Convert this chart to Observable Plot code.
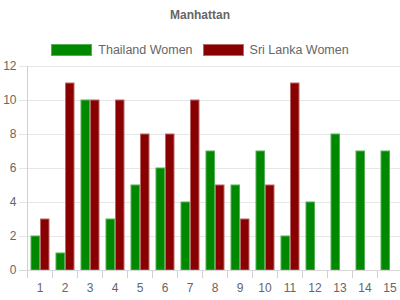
<!DOCTYPE html>
<html><head><meta charset="utf-8">
<script src="https://cdn.jsdelivr.net/npm/d3@7"></script>
<script src="https://cdn.jsdelivr.net/npm/@observablehq/plot@0.6"></script>
<style>
body{margin:0;background:#fff;font-family:"Liberation Sans",Arial,sans-serif;}
#wrap{position:relative;width:400px;height:300px;overflow:hidden;}
#title{position:absolute;top:8px;left:0;width:400px;text-align:center;font-weight:bold;font-size:12px;color:#666;}
#legend{position:absolute;top:43px;left:0;width:400px;display:flex;justify-content:center;align-items:center;font-size:12.5px;color:#666;}
.sw{display:inline-block;width:39px;height:10px;margin-right:6px;border:1px solid;}
.item{display:flex;align-items:center;margin:0 5px;}
#chart{position:absolute;top:56px;left:0;}
</style></head>
<body><div id="wrap"><div id="title">Manhattan</div><div id="legend"></div><div id="chart"></div></div>
<script>
const overs = [1,2,3,4,5,6,7,8,9,10,11,12,13,14,15];
const thailand = [2,1,10,3,5,6,4,7,5,7,2,4,8,7,7];
const sriLanka = [3,11,10,10,8,8,10,5,3,5,11,null,null,null,null];
const seriesNames = ["Thailand Women","Sri Lanka Women"];
const fills = ["#008800","#880000"];
const strokes = ["#55b055","#b86868"];
const yTicks = [0,2,4,6,8,10,12];

const legend = document.getElementById("legend");
seriesNames.forEach((n,i)=>{
  const it=document.createElement("span");it.className="item";
  const sw=document.createElement("span");sw.className="sw";sw.style.background=fills[i];sw.style.borderColor=strokes[i];
  it.appendChild(sw);it.appendChild(document.createTextNode(n));legend.appendChild(it);
});

const W=400,H=244,ML=27,MT=10,MB=30;
const bounds=overs.map(o=>o-0.5);
const xMin=bounds[0], xMax=overs[overs.length-1]+0.5, yMax=yTicks[yTicks.length-1];
const tData=overs.map((o,i)=>({over:o,v:thailand[i]}));
const sData=overs.map((o,i)=>({over:o,v:sriLanka[i]})).filter(d=>d.v!=null);

const plot=Plot.plot({
  width:W,height:H,marginLeft:ML,marginRight:0,marginTop:MT,marginBottom:MB,
  style:{fontFamily:"Liberation Sans, Arial, sans-serif",fontSize:"12px",color:"#666",background:"#fff"},
  x:{type:"linear",domain:[xMin,xMax],range:[ML,ML+25*overs.length],axis:null},
  y:{domain:[0,yMax],axis:null},
  marks:[
    Plot.ruleY(yTicks,{y:d=>d,x1:xMin,x2:xMax,insetLeft:-8,stroke:"#e6e6e6"}),
    Plot.textY(yTicks,{y:d=>d,x:xMin,dx:-11,textAnchor:"end",fill:"#666",fontSize:12}),
    Plot.ruleX(bounds,{x:d=>d,y1:0,y2:0,insetBottom:-8,stroke:"#d0d0d0"}),
    Plot.ruleX([xMin],{x:d=>d,y1:0,y2:yMax,stroke:"#d0d0d0"}),
    Plot.textX(overs,{x:d=>d,y:0,dy:18,fill:"#666",fontSize:12}),
    Plot.rectY(tData,{x1:d=>d.over-0.5,x2:d=>d.over,y:"v",fill:fills[0],stroke:strokes[0],strokeWidth:1,insetLeft:4,insetRight:0}),
    Plot.rectY(sData,{x1:d=>d.over,x2:d=>d.over+0.5,y:"v",fill:fills[1],stroke:strokes[1],strokeWidth:1,insetLeft:1,insetRight:3}),
    Plot.ruleY([0],{x1:xMin,x2:xMax,insetLeft:-8,stroke:"#d8d8d8"})
  ]
});
document.getElementById("chart").appendChild(plot);
</script></body></html>
